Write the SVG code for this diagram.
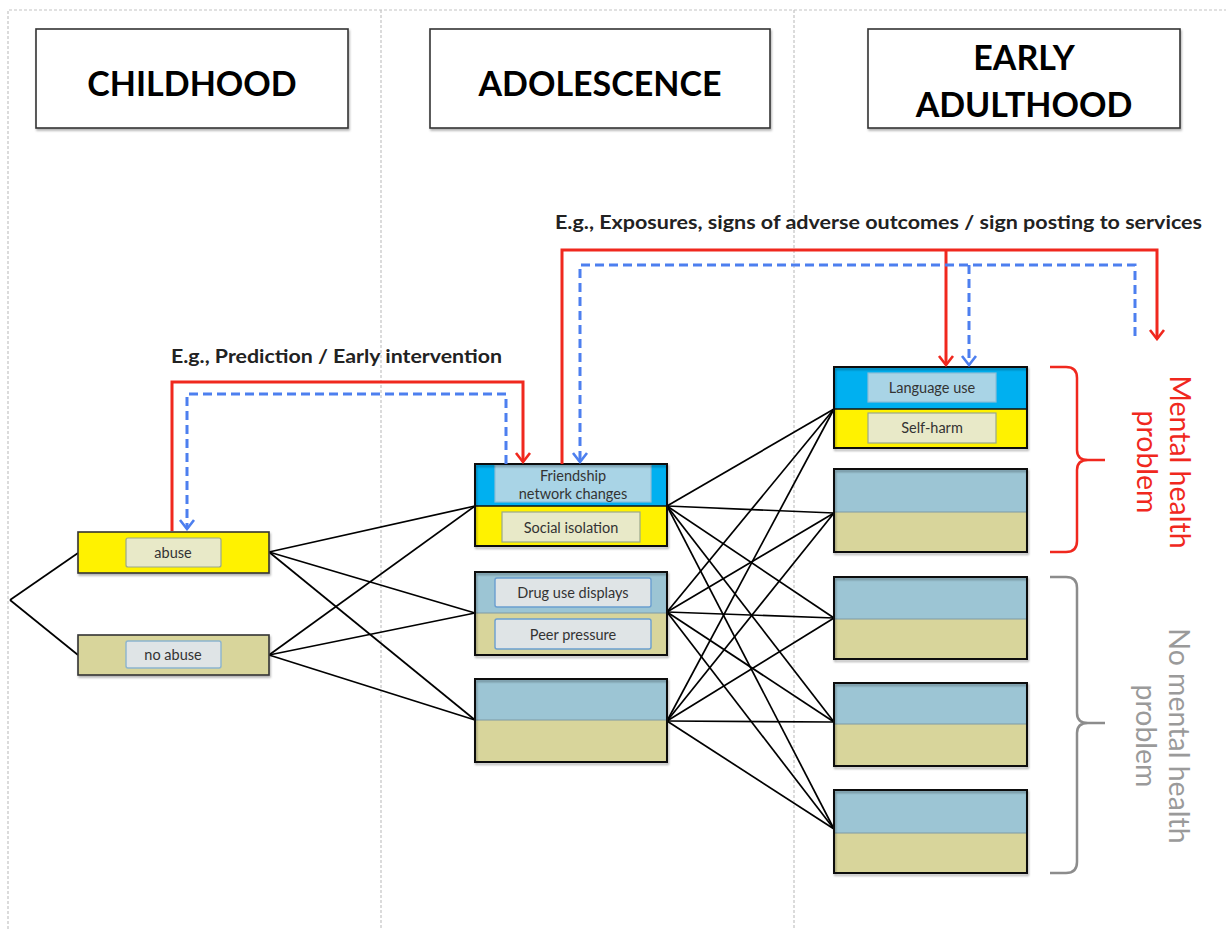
<svg xmlns="http://www.w3.org/2000/svg" width="1226" height="929" viewBox="0 0 1226 929">
<style>
.frame{fill:none;stroke:#c4c4c4;stroke-width:1.2;stroke-dasharray:3 2}
.hdr{fill:#fff;stroke:#333;stroke-width:1.6}
.hdrt{font-family:Lato,"Open Sans",sans-serif;font-weight:bold;font-size:34px;fill:#000;text-anchor:middle}
.note{font-family:Lato,"Open Sans",sans-serif;font-weight:bold;font-size:18.5px;fill:#222}
.lbl{font-family:Lato,"Open Sans",sans-serif;font-size:14.5px;fill:#333;text-anchor:middle}
.box{fill:none;stroke:#111;stroke-width:2}
.cbox{stroke:#333;stroke-width:1.6}
.yel{fill:#fff200}
.cyan{fill:#00b0f0}
.lb{fill:#9cc5d4}
.kh{fill:#d8d59b}
.split{stroke:#7f9aa5;stroke-width:1}
.ilb{fill:#a9d4e6;stroke:#8cbcd6;stroke-width:1.2}
.ikh{fill:#e8e9c8;stroke:#9aa88a;stroke-width:1.2}
.igr{fill:#dfe4e6;stroke:#6a9ed0;stroke-width:1.4}
.conn line{stroke:#000;stroke-width:1.7}
.red{fill:none;stroke:#f0281e;stroke-width:3}
.blue{fill:none;stroke:#4d7fef;stroke-width:3;stroke-dasharray:9 5}
.side{font-family:Lato,"Open Sans",sans-serif;font-size:28.5px;text-anchor:middle}
</style>
<defs>
<filter id="sh" x="-5%" y="-5%" width="115%" height="125%"><feDropShadow dx="1" dy="2" stdDeviation="1.2" flood-color="#000" flood-opacity="0.3"/></filter>
<marker id="ar" viewBox="-12 -9 14 18" refX="0" refY="0" markerWidth="14" markerHeight="18" markerUnits="userSpaceOnUse" orient="auto">
<path d="M-9,-7 L0,0 L-9,7" fill="none" stroke="#f0281e" stroke-width="2.6"/>
</marker>
<marker id="ab" viewBox="-12 -9 14 18" refX="0" refY="0" markerWidth="14" markerHeight="18" markerUnits="userSpaceOnUse" orient="auto">
<path d="M-9,-7 L0,0 L-9,7" fill="none" stroke="#4d7fef" stroke-width="2.6"/>
</marker>
</defs>
<rect width="1226" height="929" fill="#fff"/>
<g id="frame">
<path class="frame" d="M8,929 L8,10 L1226,10"/>
<line class="frame" x1="381" y1="10" x2="381" y2="929"/>
<line class="frame" x1="794" y1="10" x2="794" y2="929"/>
</g>
<g id="hdr-childhood">
<rect class="hdr" x="36" y="29" width="312" height="99" filter="url(#sh)"/>
<text class="hdrt" x="192" y="96">CHILDHOOD</text>
</g>
<g id="hdr-adolescence">
<rect class="hdr" x="430" y="29" width="340" height="99" filter="url(#sh)"/>
<text class="hdrt" x="600" y="96">ADOLESCENCE</text>
</g>
<g id="hdr-adulthood">
<rect class="hdr" x="868" y="29" width="312" height="99" filter="url(#sh)"/>
<text class="hdrt" x="1024" y="70">EARLY</text>
<text class="hdrt" x="1024" y="117">ADULTHOOD</text>
</g>
<g id="notes">
<text class="note" x="171" y="363" textLength="331" lengthAdjust="spacingAndGlyphs">E.g., Prediction / Early intervention</text>
<text class="note" x="555" y="229" textLength="647" lengthAdjust="spacingAndGlyphs">E.g., Exposures, signs of adverse outcomes / sign posting to services</text>
</g>
<g class="conn" id="connectors">
<line x1="10" y1="600" x2="78" y2="553"/>
<line x1="10" y1="600" x2="78" y2="655"/>
<line x1="269" y1="552" x2="475" y2="506"/>
<line x1="269" y1="552" x2="475" y2="613"/>
<line x1="269" y1="552" x2="475" y2="720"/>
<line x1="269" y1="655" x2="475" y2="506"/>
<line x1="269" y1="655" x2="475" y2="613"/>
<line x1="269" y1="655" x2="475" y2="720"/>
<line x1="667" y1="506" x2="834" y2="409"/>
<line x1="667" y1="506" x2="834" y2="513"/>
<line x1="667" y1="506" x2="834" y2="618"/>
<line x1="667" y1="506" x2="834" y2="722"/>
<line x1="667" y1="506" x2="834" y2="829"/>
<line x1="667" y1="612" x2="834" y2="409"/>
<line x1="667" y1="612" x2="834" y2="513"/>
<line x1="667" y1="612" x2="834" y2="618"/>
<line x1="667" y1="612" x2="834" y2="722"/>
<line x1="667" y1="612" x2="834" y2="829"/>
<line x1="667" y1="721" x2="834" y2="409"/>
<line x1="667" y1="721" x2="834" y2="513"/>
<line x1="667" y1="721" x2="834" y2="618"/>
<line x1="667" y1="721" x2="834" y2="722"/>
<line x1="667" y1="721" x2="834" y2="829"/>
</g>
<g id="node-abuse">
<rect class="yel cbox" x="78" y="532" width="191" height="41" filter="url(#sh)"/>
<rect class="ikh" x="126" y="538" width="95" height="29" rx="2"/>
<text class="lbl" x="173" y="558">abuse</text>
</g>
<g id="node-noabuse">
<rect class="kh cbox" x="78" y="635" width="191" height="40" filter="url(#sh)"/>
<rect class="igr" x="126" y="641" width="95" height="27" rx="2" style="stroke:#8cb4cf"/>
<text class="lbl" x="173" y="660">no abuse</text>
</g>
<g id="node-friendship">
<rect class="cyan" x="475" y="464" width="192" height="42"/>
<rect class="yel" x="475" y="506" width="192" height="40"/>
<rect class="ilb" x="495" y="465" width="156" height="37"/>
<rect class="ikh" x="502" y="512" width="138" height="30"/>
<line x1="475" y1="506" x2="667" y2="506" stroke="#111" stroke-width="1.6"/>
<rect class="box" x="475" y="464" width="192" height="82" filter="url(#sh)"/>
<text class="lbl" x="573" y="481">Friendship</text>
<text class="lbl" x="573" y="499">network changes</text>
<text class="lbl" x="571" y="533">Social isolation</text>
</g>
<g id="node-drug">
<rect class="lb" x="475" y="572" width="192" height="41"/>
<rect class="kh" x="475" y="613" width="192" height="42"/>
<line class="split" x1="475" y1="613" x2="667" y2="613"/>
<rect class="igr" x="495" y="578" width="156" height="29" rx="2"/>
<rect class="igr" x="495" y="619" width="156" height="30" rx="2"/>
<rect class="box" x="475" y="572" width="192" height="83" filter="url(#sh)"/>
<text class="lbl" x="573" y="598">Drug use displays</text>
<text class="lbl" x="573" y="640">Peer pressure</text>
</g>
<g id="node-adol3">
<rect class="lb" x="475" y="679" width="192" height="41"/>
<rect class="kh" x="475" y="720" width="192" height="42"/>
<line class="split" x1="475" y1="720" x2="667" y2="720"/>
<rect class="box" x="475" y="679" width="192" height="83" filter="url(#sh)"/>
</g>
<g id="node-language">
<rect class="cyan" x="834" y="367" width="193" height="42"/>
<rect class="yel" x="834" y="409" width="193" height="39"/>
<rect class="ilb" x="868" y="373" width="128" height="29"/>
<rect class="ikh" x="868" y="413" width="128" height="30"/>
<line x1="834" y1="409" x2="1027" y2="409" stroke="#111" stroke-width="1.6"/>
<rect class="box" x="834" y="367" width="193" height="81" filter="url(#sh)"/>
<text class="lbl" x="932" y="393">Language use</text>
<text class="lbl" x="932" y="433">Self-harm</text>
</g>
<g id="node-adult2">
<rect class="lb" x="834" y="469" width="193" height="43"/>
<rect class="kh" x="834" y="512" width="193" height="40"/>
<line class="split" x1="834" y1="512" x2="1027" y2="512"/>
<rect class="box" x="834" y="469" width="193" height="83" filter="url(#sh)"/>
</g>
<g id="node-adult3">
<rect class="lb" x="834" y="577" width="193" height="42"/>
<rect class="kh" x="834" y="619" width="193" height="40"/>
<line class="split" x1="834" y1="619" x2="1027" y2="619"/>
<rect class="box" x="834" y="577" width="193" height="82" filter="url(#sh)"/>
</g>
<g id="node-adult4">
<rect class="lb" x="834" y="683" width="193" height="41"/>
<rect class="kh" x="834" y="724" width="193" height="42"/>
<line class="split" x1="834" y1="724" x2="1027" y2="724"/>
<rect class="box" x="834" y="683" width="193" height="83" filter="url(#sh)"/>
</g>
<g id="node-adult5">
<rect class="lb" x="834" y="790" width="193" height="43"/>
<rect class="kh" x="834" y="833" width="193" height="40"/>
<line class="split" x1="834" y1="833" x2="1027" y2="833"/>
<rect class="box" x="834" y="790" width="193" height="83" filter="url(#sh)"/>
</g>
<g id="arrows">
<path class="red" d="M172,531 L172,382 L523,382 L523,462" marker-end="url(#ar)"/>
<path class="blue" d="M506,464 L506,394 L187,394 L187,529" marker-end="url(#ab)"/>
<path class="red" d="M562,464 L562,250 L1157,250 L1157,339" marker-end="url(#ar)"/>
<path class="red" d="M946,250 L946,365" marker-end="url(#ar)"/>
<path class="blue" d="M1135,336 L1135,265 L580,265 L580,462" marker-end="url(#ab)"/>
<path class="blue" d="M969,265 L969,365" marker-end="url(#ab)"/>
</g>
<g id="brace-mental">
<path d="M1050,367 L1066,367 Q1077,367 1077,378 L1077,450 Q1077,460 1088,460 L1105,460 M1088,460 Q1077,460 1077,470 L1077,541 Q1077,552 1066,552 L1050,552" fill="none" stroke="#f0281e" stroke-width="2.5"/>
<text class="side" fill="#f0281e" transform="translate(1170,462) rotate(90)"><tspan x="0" y="0">Mental health</tspan><tspan x="0" y="33">problem</tspan></text>
</g>
<g id="brace-nomental">
<path d="M1050,577 L1066,577 Q1077,577 1077,588 L1077,713 Q1077,723 1088,723 L1105,723 M1088,723 Q1077,723 1077,733 L1077,862 Q1077,873 1066,873 L1050,873" fill="none" stroke="#8c8c8c" stroke-width="2.5"/>
<text class="side" fill="#9a9a9a" transform="translate(1169,736) rotate(90)"><tspan x="0" y="0">No mental health</tspan><tspan x="0" y="33">problem</tspan></text>
</g>
</svg>
